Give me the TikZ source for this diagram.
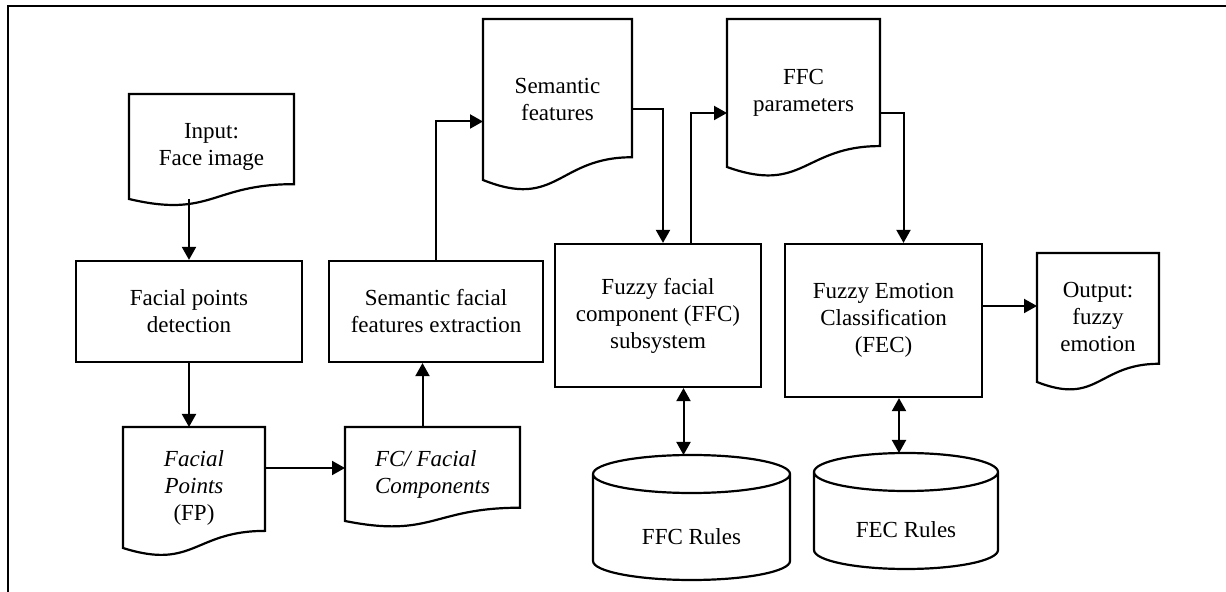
\documentclass[tikz,border=0pt]{standalone}
\usepackage{fontspec}
\setmainfont{Liberation Serif}
\usetikzlibrary{arrows.meta,calc}

\begin{document}
\begin{tikzpicture}[
  x=.5pt,y=-.5pt,
  font=\fontsize{11.5}{13.5}\selectfont,
  box/.style={draw,line width=1.1pt,align=center,inner sep=2pt},
  doc/.style={align=center,inner sep=2pt,outer sep=0pt},
  store/.style={inner sep=0pt,outer sep=0pt},
  outline/.style={line width=1.1pt,line join=miter},
  arr/.style={-{Triangle[length=6.5pt,width=7pt]},line width=1pt},
  dblarr/.style={{Triangle[length=6.5pt,width=7pt]}-{Triangle[length=6.5pt,width=7pt]},
    line width=1pt}
]
\useasboundingbox (0,0) rectangle (1226,592);
\draw[line width=1pt] (8,592) -- (8,6) -- (1226,6);

% documents (outline drawn below)
\node[doc,minimum width=82.5pt,minimum height=52.5pt] (input) at (211.5,146.5)
  {Input:\\Face image};
\node[doc,minimum width=71pt,minimum height=60.5pt] (fp) at (194,487.5)
  {\textit{Facial}\\\textit{Points}\\(FP)};
\node[doc,minimum width=87.5pt,minimum height=47pt,align=left] (fc) at (432.5,474)
  {\textit{FC/ Facial}\\\textit{Components}};
\node[doc,minimum width=74.5pt,minimum height=80.5pt] (semf) at (557.5,99.5)
  {Semantic\\features};
\node[doc,minimum width=76.5pt,minimum height=74pt] (ffcp) at (803.5,93)
  {FFC\\parameters};
\node[doc,minimum width=61pt,minimum height=64.5pt] (output) at (1098,317.5)
  {Output:\\fuzzy\\emotion};

% processes
\node[box,minimum width=113pt,minimum height=50.5pt] (fpd) at (189,311.5)
  {Facial points\\detection};
\node[box,minimum width=107pt,minimum height=50.5pt] (sffe) at (436,311.5)
  {Semantic facial\\features extraction};
\node[box,minimum width=103pt,minimum height=71.5pt] (ffc) at (658,315.5)
  {Fuzzy facial\\component (FFC)\\subsystem};
\node[box,minimum width=98.5pt,minimum height=76.5pt] (fec) at (883.5,320.5)
  {Fuzzy Emotion\\Classification\\(FEC)};

% rule bases: node = drum body below the lid
\node[store,minimum width=98.5pt,minimum height=43.5pt] (ffcr) at (691.5,536.5)
  {FFC Rules};
\node[store,minimum width=92pt,minimum height=39pt] (fecr) at (906,530)
  {FEC Rules};

\foreach \nd in {input,fp,fc,semf,ffcp,output}
  \draw[outline] (\nd.north west) -- (\nd.north east)
    -- ($(\nd.north east)!.8587!(\nd.south east)$)
    .. controls ($(\nd.north)!.8587!(\nd.south)$) and ($(\nd.north)!1.1857!(\nd.south)$)
    .. (\nd.south west) -- cycle;

\foreach \nd in {ffcr,fecr}
  \draw[outline] let \p1=($(\nd.east)-(\nd.west)$) in
    ([yshift=9.5pt]\nd.north west) -- ([yshift=9.5pt]\nd.south west)
    arc[start angle=180,end angle=360,x radius=.5*\x1,y radius=9.5pt]
    -- ([yshift=9.5pt]\nd.north east)
    ([yshift=9.5pt]\nd.north) ellipse[x radius=.5*\x1,y radius=9.5pt];

\draw[arr] (fpd.north |- input.south) -- (fpd.north);
\draw[arr] (fpd.south) -- (fpd.south |- fp.north);
\draw[arr] ([yshift=3pt]fc.west -| fp.east) -- ([yshift=3pt]fc.west);
\draw[arr] ([xshift=-5pt]fc.north) -- ([xshift=-5pt]fc.north |- sffe.south);
\draw[arr] (sffe.north) |- ([yshift=-11pt]semf.west);
\draw[arr] ([yshift=-5pt]semf.east) -| ([xshift=2.5pt]ffc.north);
\draw[arr] ([xshift=16.5pt]ffc.north) |- ([yshift=-10pt]ffcp.west);
\draw[arr] ([yshift=-10pt]ffcp.east) -| ([xshift=10pt]fec.north);
\draw[arr] ([yshift=7.25pt]fec.east) -- ([yshift=5.75pt]output.west);
\draw[dblarr] ([xshift=-4pt]ffcr.north |- ffc.south) -- ([xshift=-4pt,yshift=19pt]ffcr.north);
\draw[dblarr] ([xshift=-3.5pt]fecr.north |- fec.south) -- ([xshift=-3.5pt,yshift=19pt]fecr.north);
\end{tikzpicture}
\end{document}
